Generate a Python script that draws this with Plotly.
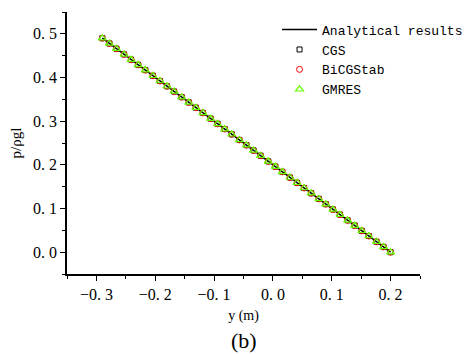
import plotly.graph_objects as go

y_pts = [-0.290, -0.278, -0.266, -0.253, -0.241, -0.229, -0.217, -0.204, -0.192, -0.180,
         -0.168, -0.155, -0.143, -0.131, -0.119, -0.106, -0.094, -0.082, -0.070, -0.057,
         -0.045, -0.033, -0.021, -0.008, 0.004, 0.016, 0.029, 0.041, 0.053, 0.065,
         0.078, 0.090, 0.102, 0.114, 0.127, 0.139, 0.151, 0.163, 0.176, 0.188, 0.200]
p_cgs = [0.490, 0.478, 0.466, 0.453, 0.441, 0.429, 0.417, 0.404, 0.392, 0.380,
         0.368, 0.355, 0.343, 0.331, 0.319, 0.306, 0.294, 0.282, 0.270, 0.257,
         0.245, 0.233, 0.221, 0.208, 0.196, 0.184, 0.171, 0.159, 0.147, 0.135,
         0.122, 0.110, 0.098, 0.086, 0.073, 0.061, 0.049, 0.037, 0.024, 0.012, 0.000]
p_bicgstab = list(p_cgs)
p_gmres = list(p_cgs)
y_line = [-0.29, 0.20]
p_line = [0.49, 0.00]

x_ticklabels = {"\u22120.3": "\u22120. 3", "\u22120.2": "\u22120. 2", "\u22120.1": "\u22120. 1",
                "0.0": "0. 0", "0.1": "0. 1", "0.2": "0. 2"}
y_ticklabels = {"0.0": "0. 0", "0.1": "0. 1", "0.2": "0. 2", "0.3": "0. 3",
                "0.4": "0. 4", "0.5": "0. 5"}

fig = go.Figure()
fig.add_trace(go.Scatter(x=y_line, y=p_line, mode="lines", name="Analytical results",
                         line=dict(color="black", width=1.5)))
fig.add_trace(go.Scatter(x=y_pts, y=p_cgs, mode="markers", name="CGS",
                         marker=dict(symbol="square-open", size=5, color="black",
                                     line=dict(width=1))))
fig.add_trace(go.Scatter(x=y_pts, y=p_bicgstab, mode="markers", name="BiCGStab",
                         marker=dict(symbol="circle-open", size=6, color="red",
                                     line=dict(width=1))))
fig.add_trace(go.Scatter(x=y_pts, y=p_gmres, mode="markers", name="GMRES",
                         marker=dict(symbol="triangle-up-open", size=7, color="#66ff00",
                                     line=dict(width=1.2))))

tick_font = dict(family="Liberation Serif, serif", size=16, color="black")

fig.update_xaxes(range=[-0.35, 0.25], tickmode="linear", tick0=0, dtick=0.1,
                 tickformat=".1f", labelalias=x_ticklabels,
                 showline=True, linecolor="black", linewidth=1.5, ticks="outside",
                 ticklen=5, tickwidth=1.2, tickcolor="black", showgrid=False,
                 zeroline=False, tickfont=tick_font,
                 minor=dict(ticks="outside", ticklen=3, tickwidth=1, tickcolor="black",
                            dtick=0.05, showgrid=False),
                 title=dict(text="y (m)", font=dict(family="Liberation Serif, serif", size=14,
                                                     color="black"), standoff=8))
fig.update_yaxes(range=[-0.05, 0.55], tickmode="linear", tick0=0, dtick=0.1,
                 tickformat=".1f", labelalias=y_ticklabels,
                 showline=True, linecolor="black", linewidth=1.5, ticks="outside",
                 ticklen=5, tickwidth=1.2, tickcolor="black", showgrid=False,
                 zeroline=False, tickfont=tick_font,
                 minor=dict(ticks="outside", ticklen=3, tickwidth=1, tickcolor="black",
                            dtick=0.05, showgrid=False),
                 title=dict(text="p/\u03c1gl", font=dict(family="Liberation Serif, serif", size=15,
                                                         color="black"), standoff=8))

fig.add_annotation(text="(b)", xref="paper", yref="paper", x=0.5, y=-0.255,
                   xanchor="center", yanchor="middle", showarrow=False,
                   font=dict(family="Liberation Serif, serif", size=22, color="black"))

fig.update_layout(
    width=467, height=354,
    margin=dict(l=67, r=47, t=12, b=80, autoexpand=False),
    paper_bgcolor="white", plot_bgcolor="white",
    showlegend=True,
    legend=dict(x=0.595, y=0.99, xanchor="left", yanchor="top",
                bgcolor="rgba(0,0,0,0)", itemwidth=35, tracegroupgap=0,
                font=dict(family="Liberation Mono, monospace", size=13, color="black")),
)

fig.write_html("out.html")
